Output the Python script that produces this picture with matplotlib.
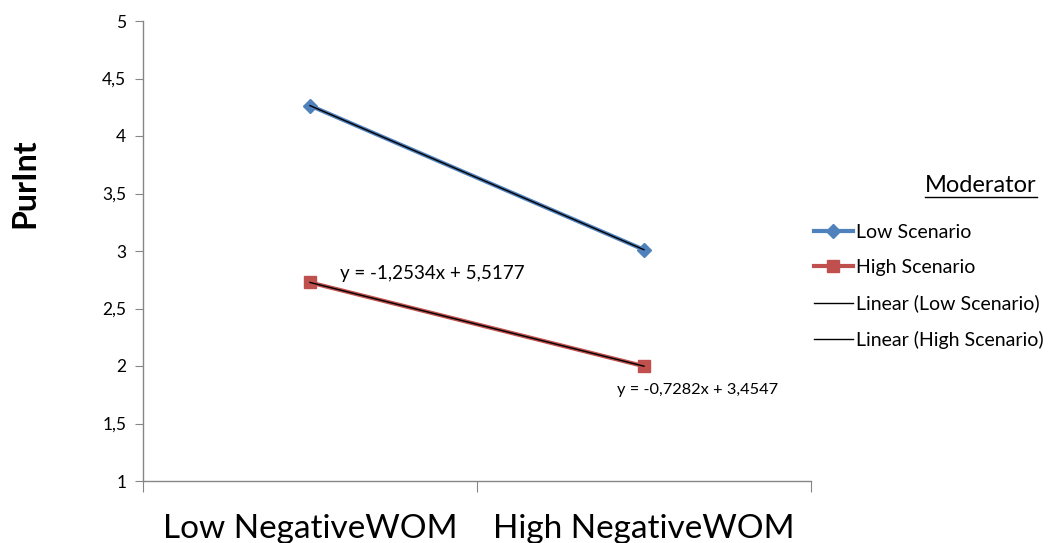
import matplotlib
matplotlib.use("Agg")
import matplotlib.pyplot as plt
from matplotlib.lines import Line2D
import numpy as np

plt.rcParams['font.family'] = ['Lato', 'DejaVu Sans']

categories = ["Low NegativeWOM", "High NegativeWOM"]
series_names = ["Low Scenario", "High Scenario"]
low_scenario = [4.2643, 3.0109]
high_scenario = [2.7265, 1.9983]
slopes = [-1.2534, -0.7282]
intercepts = [5.5177, 3.4547]
y_ticks = [1, 1.5, 2, 2.5, 3, 3.5, 4, 4.5, 5]
y_label = "PurInt"
legend_title = "Moderator"

blue = "#4F81BD"
red = "#C0504D"
axis_grey = "#868686"

fig = plt.figure(figsize=(10.5, 5.43), dpi=100)
ax = fig.add_axes([143/1050, 1-481/543, (811-143)/1050, (481-21)/543])

x = np.arange(1, len(categories) + 1)
h1, = ax.plot(x, low_scenario, color=blue, lw=3, marker='D', ms=7, label=series_names[0], zorder=3)
h2, = ax.plot(x, high_scenario, color=red, lw=3, marker='s', ms=8.5, label=series_names[1], zorder=3)
t1, = ax.plot(x, intercepts[0] + slopes[0]*x, color='black', lw=1, label="Linear (Low Scenario)", zorder=4)
t2, = ax.plot(x, intercepts[1] + slopes[1]*x, color='black', lw=1, label="Linear (High Scenario)", zorder=4)

def fmt(v):
    return f"{v:.4f}".replace('.', ',')

fig.text(340/1050, 1-274/543,
         f"y = {fmt(slopes[0])}x + {fmt(intercepts[0])}",
         fontsize=13.5, ha='left', va='center')
fig.text(617/1050, 1-390/543,
         f"y = {fmt(slopes[1])}x + {fmt(intercepts[1])}",
         fontsize=11.8, ha='left', va='center')

ax.set_xlim(0.5, 2.5)
ax.set_ylim(1, 5)
ax.set_yticks(y_ticks)
ax.set_yticklabels([f"{t:g}".replace('.', ',') for t in y_ticks], fontsize=12.5)
ax.set_xticks([0.5, 1.5, 2.5])
ax.set_xticklabels([])
ax.set_xticks(x, minor=True)
ax.set_xticklabels(categories, minor=True, fontsize=24)
ax.tick_params(axis='x', which='minor', length=0, pad=24)
ax.tick_params(axis='x', which='major', length=8, color=axis_grey, direction='out')
ax.tick_params(axis='y', length=6, color=axis_grey, direction='out', pad=6)
for s in ['top', 'right']:
    ax.spines[s].set_visible(False)
for s in ['left', 'bottom']:
    ax.spines[s].set_color(axis_grey)
    ax.spines[s].set_linewidth(1)

fig.text(25/1050, 1-183/543, y_label, fontsize=23, fontweight='bold',
         rotation=90, ha='center', va='center')

fig.text(981/1050, 1-185/543, legend_title, fontsize=17, ha='center', va='center')
fig.add_artist(Line2D([925/1050, 1037/1050], [1-197/543, 1-197/543], color='black', lw=1))

fig.legend(handles=[h1, h2, t1, t2], loc='upper left',
           bbox_to_anchor=(806/1050, 1-216/543), frameon=False,
           fontsize=14, handlelength=2.0, handletextpad=0.15,
           labelspacing=0.95, borderaxespad=0)

fig.savefig("out.png", dpi=100)
